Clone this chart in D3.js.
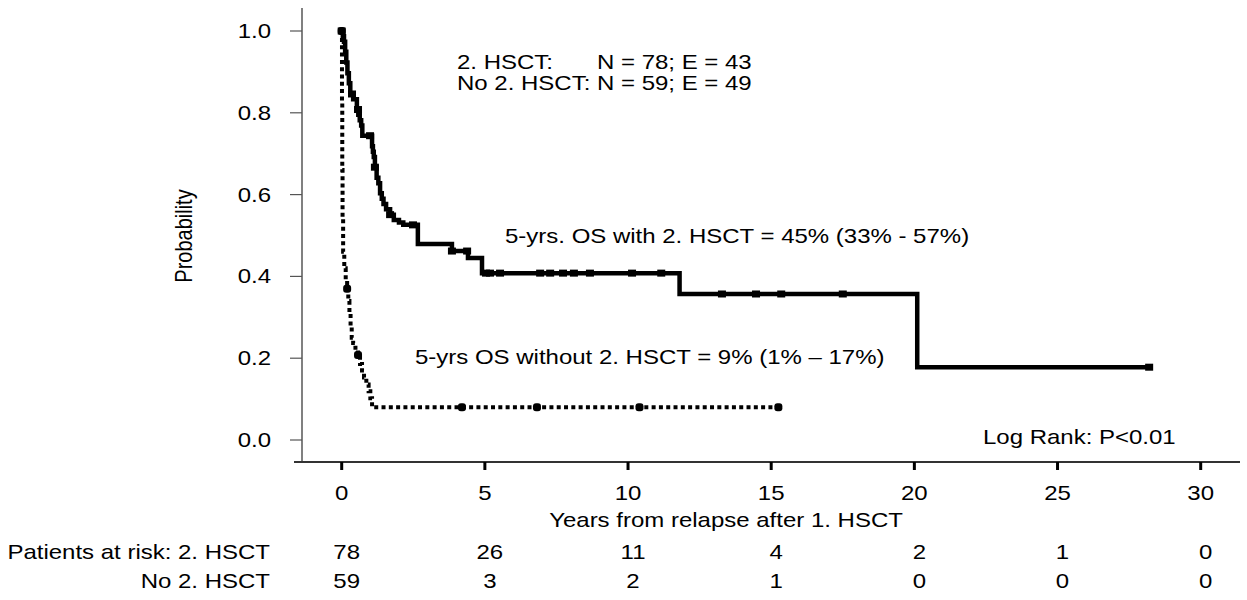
<!DOCTYPE html>
<html>
<head>
<meta charset="utf-8">
<script src="https://cdn.jsdelivr.net/npm/d3@7"></script>
<style>
  body { margin: 0; background: #fff; }
  text { font-family: "Liberation Sans", Arial, sans-serif; font-size: 20px; fill: #000; }
</style>
</head>
<body>
<svg width="1247" height="600"></svg>
<script>
// 2. HSCT group: step times (years) and survival probability after each step
var hsctTimes = [0, 0.04, 0.08, 0.12, 0.16, 0.2, 0.25, 0.3, 0.4, 0.53, 0.58, 0.63, 0.68, 0.72, 1.06, 1.09, 1.12, 1.16, 1.22, 1.28, 1.34, 1.4, 1.46, 1.55, 1.69, 1.82, 2.0, 2.15, 2.66, 3.85, 4.41, 4.9, 11.8, 20.1];
var hsctSurv = [1, 0.987, 0.974, 0.949, 0.923, 0.897, 0.872, 0.846, 0.833, 0.808, 0.795, 0.782, 0.769, 0.744, 0.718, 0.705, 0.692, 0.667, 0.641, 0.628, 0.603, 0.59, 0.577, 0.564, 0.551, 0.538, 0.532, 0.526, 0.479, 0.462, 0.445, 0.408, 0.357, 0.178];
var hsctEnd = 28.2;
var hsctCensored = [0, 0.36, 0.57, 0.99, 1.16, 1.69, 2.49, 3.85, 4.38, 5.04, 5.18, 5.53, 6.93, 7.28, 7.73, 8.11, 8.67, 10.14, 11.16, 13.28, 14.47, 15.35, 17.5, 28.2];

// No 2. HSCT group
var noHsctTimes = [0, 0.01, 0.02, 0.03, 0.05, 0.09, 0.14, 0.19, 0.23, 0.27, 0.31, 0.35, 0.4, 0.48, 0.57, 0.64, 0.71, 0.78, 0.86, 0.94, 1.0, 1.06];
var noHsctSurv = [1, 0.83, 0.66, 0.54, 0.46, 0.42, 0.39, 0.37, 0.34, 0.31, 0.28, 0.25, 0.237, 0.22, 0.208, 0.186, 0.17, 0.153, 0.136, 0.119, 0.102, 0.08];
var noHsctEnd = 15.25;
var noHsctCensored = [0, 0.19, 0.57, 4.2, 6.82, 10.4, 15.25];

var xTicks = [0, 5, 10, 15, 20, 25, 30];
var yTicks = [0, 0.2, 0.4, 0.6, 0.8, 1.0];
var riskHsct = [78, 26, 11, 4, 2, 1, 0];
var riskNoHsct = [59, 3, 2, 1, 0, 0, 0];

var sx = 1.2; // the original figure is stretched horizontally

var svg = d3.select("svg");

var x = d3.scaleLinear().domain([0, 30]).range([341.7, 1200.7]);
var y = d3.scaleLinear().domain([0, 1]).range([440, 31]);

function label(txt, px, py, anchor) {
  return svg.append("text")
    .attr("transform", "translate(" + px + "," + py + ") scale(" + sx + ",1)")
    .attr("text-anchor", anchor || "start")
    .text(txt);
}

// y axis
svg.append("line")
  .attr("x1", 302).attr("x2", 302).attr("y1", 8).attr("y2", 462)
  .attr("stroke", "#808080").attr("stroke-width", 2);

svg.selectAll(".ytick").data(yTicks).enter().append("line")
  .attr("x1", 290).attr("x2", 302)
  .attr("y1", function(d) { return y(d); })
  .attr("y2", function(d) { return y(d); })
  .attr("stroke", "#555").attr("stroke-width", 1.2);

yTicks.forEach(function(d) {
  label(d3.format(".1f")(d), 271, y(d) + 7, "end");
});

// x axis
svg.append("line")
  .attr("x1", 294).attr("x2", 1240).attr("y1", 462).attr("y2", 462)
  .attr("stroke", "#333").attr("stroke-width", 2);

svg.selectAll(".xtick").data(xTicks).enter().append("line")
  .attr("x1", function(d) { return x(d); })
  .attr("x2", function(d) { return x(d); })
  .attr("y1", 462).attr("y2", 470)
  .attr("stroke", "#000").attr("stroke-width", 3);

xTicks.forEach(function(d) {
  label(d, x(d), 500, "middle");
});

label("Years from relapse after 1. HSCT", 726, 527, "middle");

svg.append("text")
  .attr("transform", "translate(192,236) rotate(-90) scale(1," + sx + ")")
  .attr("text-anchor", "middle")
  .text("Probability");

// curves
function stepData(times, surv, end) {
  var pts = times.map(function(t, i) { return [t, surv[i]]; });
  pts.push([end, surv[surv.length - 1]]);
  return pts;
}

function survAt(times, surv, t) {
  var v = surv[0];
  for (var i = 0; i < times.length; i++) {
    if (times[i] <= t) v = surv[i];
  }
  return v;
}

var line = d3.line()
  .x(function(d) { return x(d[0]); })
  .y(function(d) { return y(d[1]); })
  .curve(d3.curveStepAfter);

svg.append("path")
  .datum(stepData(noHsctTimes, noHsctSurv, noHsctEnd))
  .attr("d", line)
  .attr("fill", "none")
  .attr("stroke", "#000")
  .attr("stroke-width", 4)
  .attr("stroke-dasharray", "4,3.3");

svg.append("path")
  .datum(stepData(hsctTimes, hsctSurv, hsctEnd))
  .attr("d", line)
  .attr("fill", "none")
  .attr("stroke", "#000")
  .attr("stroke-width", 4.5);

// censoring marks
svg.selectAll(".cens1").data(hsctCensored).enter().append("rect")
  .attr("x", function(d) { return x(d) - 4; })
  .attr("y", function(d) { return y(survAt(hsctTimes, hsctSurv, d)) - 3.5; })
  .attr("width", 8).attr("height", 7)
  .attr("fill", "#000");

svg.selectAll(".cens2").data(noHsctCensored).enter().append("rect")
  .attr("x", function(d) { return x(d) - 4; })
  .attr("y", function(d) { return y(survAt(noHsctTimes, noHsctSurv, d)) - 4; })
  .attr("width", 8).attr("height", 8).attr("rx", 3)
  .attr("fill", "#000");

// annotations
label("2. HSCT:", 457, 69);
label("N = 78; E = 43", 597, 69);
label("No 2. HSCT:", 457, 90);
label("N = 59; E = 49", 597, 90);
label("5-yrs. OS with 2. HSCT = 45% (33% - 57%)", 505, 243);
label("5-yrs OS without 2. HSCT = 9% (1% \u2013 17%)", 415, 364);
label("Log Rank: P<0.01", 983, 444);

// patients at risk
label("Patients at risk: 2. HSCT", 270, 559, "end");
label("No 2. HSCT", 270, 588, "end");
riskHsct.forEach(function(d, i) {
  label(d, x(xTicks[i]) + 5, 559, "middle");
});
riskNoHsct.forEach(function(d, i) {
  label(d, x(xTicks[i]) + 5, 588, "middle");
});
</script>
</body>
</html>
